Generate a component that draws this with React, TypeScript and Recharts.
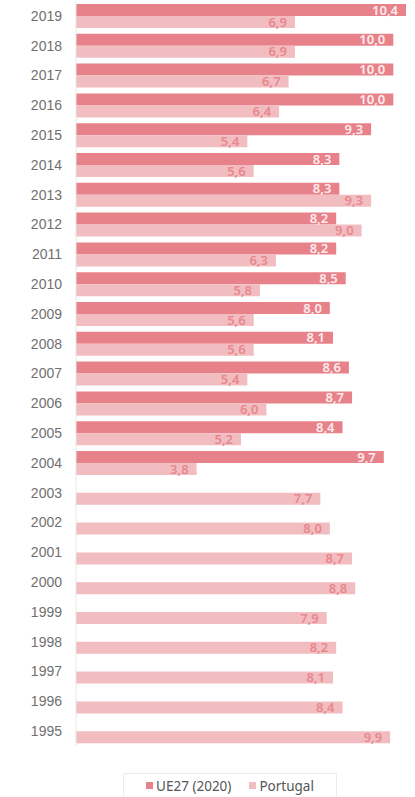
import { BarChart, Bar, XAxis, YAxis, LabelList } from "recharts";

const years = [
  "2019", "2018", "2017", "2016", "2015", "2014", "2013", "2012", "2011", "2010",
  "2009", "2008", "2007", "2006", "2005", "2004", "2003", "2002", "2001", "2000",
  "1999", "1998", "1997", "1996", "1995",
];
const ue27 = [
  10.4, 10.0, 10.0, 10.0, 9.3, 8.3, 8.3, 8.2, 8.2, 8.5,
  8.0, 8.1, 8.6, 8.7, 8.4, 9.7, null, null, null, null,
  null, null, null, null, null,
];
const portugal = [
  6.9, 6.9, 6.7, 6.4, 5.4, 5.6, 9.3, 9.0, 6.3, 5.8,
  5.6, 5.6, 5.4, 6.0, 5.2, 3.8, 7.7, 8.0, 8.7, 8.8,
  7.9, 8.2, 8.1, 8.4, 9.9,
];

const data = years.map((year, i) => ({ year, ue: ue27[i], pt: portugal[i] }));

const UE_COLOR = "#e8828a";
const PT_COLOR = "#f2bdc0";

const fmt = (v: any) => (v == null ? "" : Number(v).toFixed(1).replace(".", ","));

const labelStyle = { fontSize: 13, fontWeight: 600, fontFamily: "'Noto Sans', sans-serif" };

function LegendBox() {
  return (
    <div
      style={{
        position: "absolute",
        left: 123,
        top: 773,
        width: 214,
        height: 24,
        boxSizing: "border-box",
        display: "flex",
        alignItems: "center",
        justifyContent: "center",
        gap: 18,
        border: "1px solid #ececec",
        borderBottom: "none",
        fontFamily: "'Noto Sans', sans-serif",
        fontSize: 13.5,
        color: "#555",
      }}
    >
      <span style={{ display: "flex", alignItems: "center", gap: 3 }}>
        <span style={{ width: 7, height: 7, background: UE_COLOR, display: "inline-block" }} />
        UE27 (2020)
      </span>
      <span style={{ display: "flex", alignItems: "center", gap: 3 }}>
        <span style={{ width: 7, height: 7, background: PT_COLOR, display: "inline-block" }} />
        Portugal
      </span>
    </div>
  );
}

export default function App() {
  return (
    <div style={{ position: "absolute", left: 0, top: 0, width: 415, height: 797, background: "#fff" }}>
      <BarChart
        layout="vertical"
        width={415}
        height={750}
        data={data}
        margin={{ top: 1, right: 9, left: 0, bottom: 4 }}
        barGap={0}
        barSize={12}
      >
        <XAxis type="number" domain={[0, 10.4]} hide />
        <YAxis
          type="category"
          dataKey="year"
          width={76}
          axisLine={{ stroke: "#e8e8e8" }}
          tickLine={false}
          tickMargin={8}
          tick={{ fill: "#707070", fontSize: 14, fontFamily: "'Liberation Sans', Arial, sans-serif" }}
          interval={0}
        />
        <Bar dataKey="ue" name="UE27 (2020)" fill={UE_COLOR} isAnimationActive={false}>
          <LabelList dataKey="ue" position="insideRight" offset={8} formatter={fmt} fill="#fdeced" style={labelStyle} />
        </Bar>
        <Bar dataKey="pt" name="Portugal" fill={PT_COLOR} isAnimationActive={false}>
          <LabelList dataKey="pt" position="insideRight" offset={8} formatter={fmt} fill="#e8878d" style={labelStyle} />
        </Bar>
      </BarChart>
      <LegendBox />
    </div>
  );
}
